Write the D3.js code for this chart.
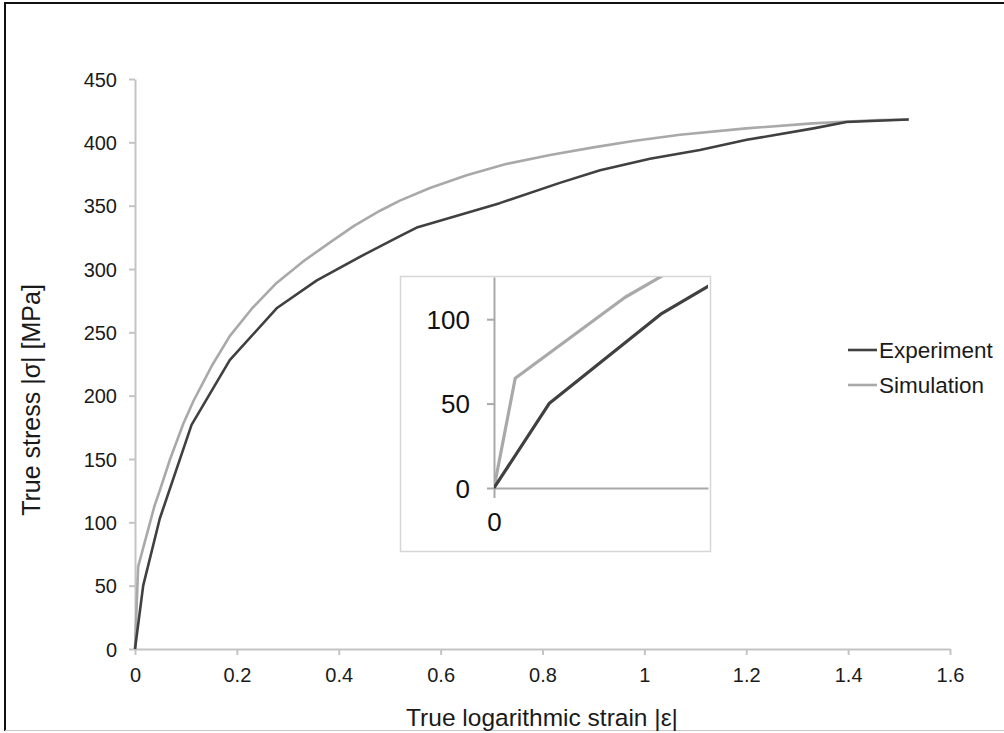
<!DOCTYPE html>
<html>
<head>
<meta charset="utf-8">
<script src="https://cdn.jsdelivr.net/npm/d3@7"></script>
<style>
  html, body { margin: 0; padding: 0; background: #fff; }
  svg { display: block; font-family: "Liberation Sans", Arial, sans-serif; }
</style>
</head>
<body>
<svg id="chart" width="1004" height="733"></svg>
<script>
// ---- data ----
const expStrain = [0, 0.0161, 0.0487, 0.111, 0.186, 0.278, 0.357, 0.448, 0.52, 0.555, 0.716, 0.834, 0.913, 1.011, 1.109, 1.201, 1.332, 1.397, 1.519];
const expStress = [0, 50, 103, 177, 228, 269, 291, 311, 326, 333, 352, 368, 378, 387, 394, 402, 411, 416, 418];

const simStrain = [0, 0.0062, 0.0383, 0.049, 0.069, 0.095, 0.115, 0.15, 0.186, 0.23, 0.278, 0.33, 0.383, 0.43, 0.481, 0.52, 0.579, 0.651, 0.73, 0.815, 0.9, 0.978, 1.07, 1.2, 1.33, 1.46, 1.519];
const simStress = [0, 65, 113, 125.5, 150, 178, 196, 223, 247, 269, 289, 306, 321, 334, 346, 354, 364, 374, 383, 390, 396, 401, 406, 411, 415, 417.6, 418];

const seriesNames = ["Experiment", "Simulation"];
const xTickValues = [0, 0.2, 0.4, 0.6, 0.8, 1, 1.2, 1.4, 1.6];
const xTickLabels = ["0", "0.2", "0.4", "0.6", "0.8", "1", "1.2", "1.4", "1.6"];
const yTickValues = [0, 50, 100, 150, 200, 250, 300, 350, 400, 450];
const insetXTicks = [0];
const insetYTicks = [0, 50, 100];
const xTitle = "True logarithmic strain |ε|";
const yTitle = "True stress |σ| [MPa]";

// ---- setup ----
const svg = d3.select("#chart");
const colors = { Experiment: "#404040", Simulation: "#a9a9a9" };
const expData = expStrain.map((x, i) => ({ x, y: expStress[i] }));
const simData = simStrain.map((x, i) => ({ x, y: simStress[i] }));
const seriesData = { Experiment: expData, Simulation: simData };

// frame
svg.append("line").attr("x1", 5).attr("y1", 3).attr("x2", 5).attr("y2", 731).attr("stroke", "#111").attr("stroke-width", 2);
svg.append("line").attr("x1", 4).attr("y1", 3).attr("x2", 1004).attr("y2", 3).attr("stroke", "#111").attr("stroke-width", 2);
svg.append("line").attr("x1", 5).attr("y1", 730.5).attr("x2", 1004).attr("y2", 730.5).attr("stroke", "#c8c8c8").attr("stroke-width", 1);

// main scales
const x = d3.scaleLinear().domain([0, 1.6]).range([135, 950]);
const y = d3.scaleLinear().domain([0, 450]).range([649, 79]);

const axisColor = "#c4c4c4";
const gx = svg.append("g").attr("transform", `translate(0,${y(0)})`)
  .call(d3.axisBottom(x).tickValues(xTickValues).tickSize(6).tickSizeOuter(0)
    .tickFormat((d, i) => xTickLabels[i]));
const gy = svg.append("g").attr("transform", `translate(${x(0)},0)`)
  .call(d3.axisLeft(y).tickValues(yTickValues).tickSize(6).tickSizeOuter(0));
[gx, gy].forEach(g => {
  g.select(".domain").attr("stroke", axisColor).attr("stroke-width", 2);
  g.selectAll(".tick line").attr("stroke", axisColor).attr("stroke-width", 2);
  g.selectAll(".tick text").attr("fill", "#1a1a1a").attr("font-size", "20px")
    .attr("font-family", "Liberation Sans, Arial, sans-serif");
});
gx.selectAll(".tick text").attr("dy", null).attr("y", 33);
gy.selectAll(".tick text").attr("x", -18).attr("dy", "0.35em");

// axis titles
svg.append("text").attr("x", 542).attr("y", 726).attr("text-anchor", "middle")
  .attr("font-size", "24.5px").attr("fill", "#1a1a1a").text(xTitle);
svg.append("text").attr("transform", "translate(40,400) rotate(-90)").attr("text-anchor", "middle")
  .attr("font-size", "25px").attr("fill", "#1a1a1a").text(yTitle);

// main lines
const line = d3.line().x(d => x(d.x)).y(d => y(d.y)).curve(d3.curveLinear);
["Simulation", "Experiment"].forEach(name => {
  svg.append("path").datum(seriesData[name]).attr("d", line)
    .attr("fill", "none").attr("stroke", colors[name]).attr("stroke-width", 2.6)
    .attr("stroke-linejoin", "round");
});

// legend
const legY = [350, 385];
seriesNames.forEach((name, i) => {
  svg.append("line").attr("x1", 848).attr("x2", 877).attr("y1", legY[i]).attr("y2", legY[i])
    .attr("stroke", colors[name]).attr("stroke-width", 2.6);
  svg.append("text").attr("x", 879).attr("y", legY[i]).attr("dy", "0.35em")
    .attr("font-size", "22.5px").attr("fill", "#1a1a1a").text(name);
});

// inset
svg.append("rect").attr("x", 400.5).attr("y", 276.5).attr("width", 310).attr("height", 275)
  .attr("fill", "#fff").attr("stroke", "#d6d6d6").attr("stroke-width", 1.5);

const ix = d3.scaleLinear().domain([0, 0.0625]).range([494, 708]);
const iy = d3.scaleLinear().domain([0, 125]).range([488, 277]);

svg.append("clipPath").attr("id", "insetClip").append("rect")
  .attr("x", 494).attr("y", 277).attr("width", 214).attr("height", 212);

const inset = svg.append("g");
const igx = inset.append("g").attr("transform", `translate(0,${iy(0)})`)
  .call(d3.axisBottom(ix).tickValues(insetXTicks).tickSize(10).tickSizeOuter(0).tickFormat(d3.format("d")));
const igy = inset.append("g").attr("transform", `translate(${ix(0)},0)`)
  .call(d3.axisLeft(iy).tickValues(insetYTicks).tickSize(7).tickSizeOuter(0));
const insetAxisColor = "#a8a8a8";
[igx, igy].forEach(g => {
  g.select(".domain").attr("stroke", insetAxisColor).attr("stroke-width", 2);
  g.selectAll(".tick line").attr("stroke", insetAxisColor).attr("stroke-width", 2);
  g.selectAll(".tick text").attr("fill", "#111").attr("font-size", "26px")
    .attr("font-family", "Liberation Sans, Arial, sans-serif");
});
igx.selectAll(".tick text").attr("dy", null).attr("y", 43);
igy.selectAll(".tick text").attr("x", -24).attr("dy", "0.35em");

const iline = d3.line().x(d => ix(d.x)).y(d => iy(d.y));
const ilines = inset.append("g").attr("clip-path", "url(#insetClip)");
["Simulation", "Experiment"].forEach(name => {
  ilines.append("path").datum(seriesData[name]).attr("d", iline)
    .attr("fill", "none").attr("stroke", colors[name]).attr("stroke-width", 3.2)
    .attr("stroke-linejoin", "round");
});
</script>
</body>
</html>
